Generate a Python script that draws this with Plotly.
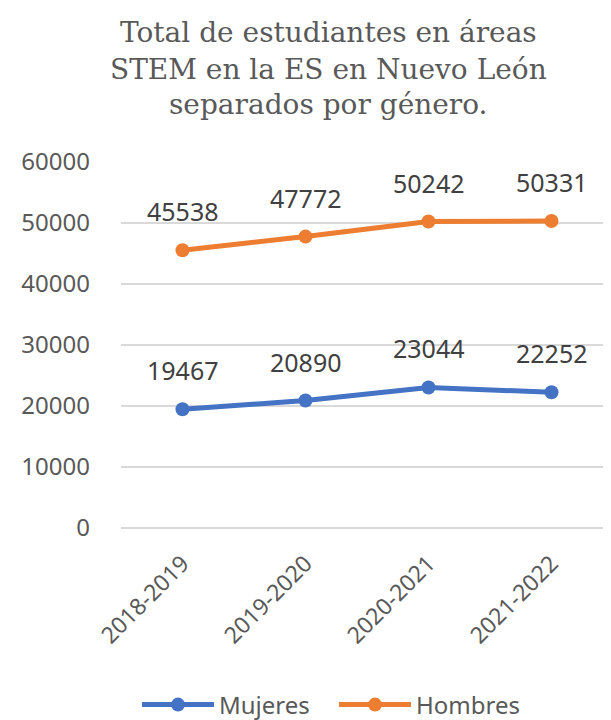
import plotly.graph_objects as go

categories = ["2018-2019", "2019-2020", "2020-2021", "2021-2022"]
mujeres = [19467, 20890, 23044, 22252]
hombres = [45538, 47772, 50242, 50331]
y_ticks = [0, 10000, 20000, 30000, 40000, 50000, 60000]
title_lines = ["Total de estudiantes en áreas", "STEM en la ES en Nuevo León", "separados por género."]

BLUE = "#4472C4"
ORANGE = "#ED7D31"
GRAY = "#595959"
DARK = "#404040"
FONT = "Noto Sans"

# page offset of the figure inside the browser (default body margin)
OFF = 8
W, H = 611, 720
L, T, B = 121 - OFF, 162 - OFF, 528 - OFF
R = 613 - OFF
PH = B - T
PW = R - L

fig = go.Figure()
for name, vals, color in [("Mujeres", mujeres, BLUE), ("Hombres", hombres, ORANGE)]:
    fig.add_trace(go.Scatter(
        x=categories, y=vals, name=name, mode="lines+markers",
        line=dict(color=color, width=5),
        marker=dict(color=color, size=14),
    ))
    for c, v in zip(categories, vals):
        fig.add_annotation(x=c, y=v, text=str(v), showarrow=False, yshift=39,
                           font=dict(family=FONT, size=25, color=DARK))

title_y = [33, 69, 105]
for line, ty in zip(title_lines, title_y):
    fig.add_annotation(
        text=line, showarrow=False, xref="paper", yref="paper",
        x=(328 - OFF - L) / PW, xanchor="center",
        y=(B - (ty - OFF)) / PH, yanchor="middle",
        font=dict(family="DejaVu Serif", size=28, color=GRAY),
    )

fig.update_layout(
    width=W, height=H,
    margin=dict(l=L, r=W - R, t=T, b=H - B, autoexpand=False),
    paper_bgcolor="white", plot_bgcolor="white",
    xaxis=dict(
        type="category", range=[-0.5, 3.5], tickangle=-45,
        tickfont=dict(family=FONT, size=23, color=GRAY),
        showgrid=False, showline=False, zeroline=False,
        ticks="outside", ticklen=12, tickcolor="rgba(0,0,0,0)",
        automargin=False,
    ),
    yaxis=dict(
        range=[0, 60000], tickvals=y_ticks, ticktext=[str(t) for t in y_ticks],
        tickfont=dict(family=FONT, size=24, color=GRAY),
        showgrid=True, gridcolor="#d9d9d9", gridwidth=1.5,
        zeroline=True, zerolinecolor="#d9d9d9", zerolinewidth=1.5,
        showline=False, ticklabelstandoff=30, automargin=False,
    ),
    legend=dict(
        orientation="h", x=(137 - OFF - L) / PW, xanchor="left",
        y=(B - (705 - OFF)) / PH, yanchor="middle",
        font=dict(family=FONT, size=24, color=GRAY),
        itemwidth=72, entrywidth=110, entrywidthmode="pixels",
    ),
)

fig.write_html("out.html")
